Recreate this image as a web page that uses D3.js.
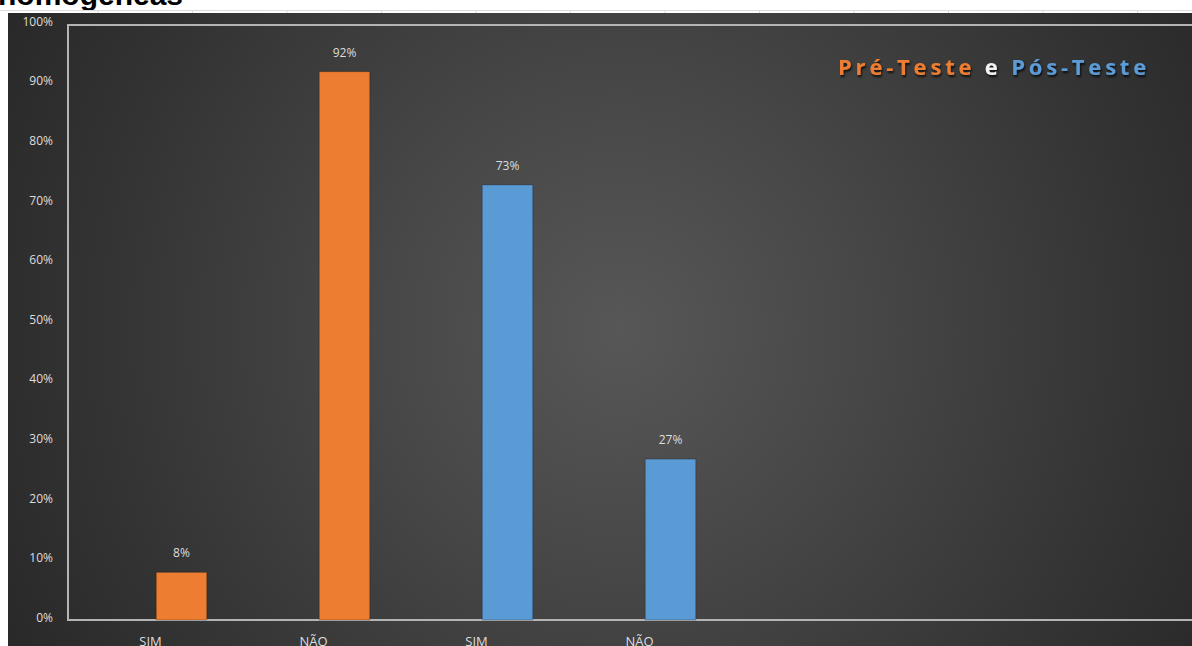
<!DOCTYPE html>
<html>
<head>
<meta charset="utf-8">
<script src="https://cdn.jsdelivr.net/npm/d3@7"></script>
<style>
  html, body { margin: 0; padding: 0; background: #fff; overflow: hidden; }
  svg { display: block; }
</style>
</head>
<body>
<div class="graph"></div>
<script>
(() => {
var categories = ['SIM', 'NÃO', 'SIM', 'NÃO'];
var groups = ['pre', 'pre', 'post', 'post'];
var values = [0.08, 0.92, 0.73, 0.27];
var yTicks = [0, 0.1, 0.2, 0.3, 0.4, 0.5, 0.6, 0.7, 0.8, 0.9, 1];
var legendParts = [['Pré-Teste', 'pre'], [' e ', 'and'], ['Pós-Teste', 'post']];

var width = 1192,
    height = 646,
    frame = {left: 8, top: 13},
    plot = {left: 68, top: 24, bottom: 620};

var colors = d3.scaleOrdinal()
    .domain(['pre', 'post', 'and'])
    .range(['#ed7d31', '#5b9bd5', '#f2f2f2']);

var svg = d3.select('div.graph')
    .append('svg')
        .attr('width', width)
        .attr('height', height);

var defs = svg.append('defs');
var grad = defs.append('radialGradient')
    .attr('id', 'bg')
    .attr('gradientUnits', 'userSpaceOnUse')
    .attr('cx', 620).attr('cy', 330).attr('r', 700);
grad.append('stop').attr('offset', 0).attr('stop-color', '#575757');
grad.append('stop').attr('offset', 0.35).attr('stop-color', '#474747');
grad.append('stop').attr('offset', 0.75).attr('stop-color', '#333333');
grad.append('stop').attr('offset', 1).attr('stop-color', '#282828');

var shadow = defs.append('filter').attr('id', 'shadow')
    .attr('x', '-10%').attr('y', '-30%').attr('width', '120%').attr('height', '160%');
shadow.append('feDropShadow')
    .attr('dx', 1).attr('dy', 2).attr('stdDeviation', 1.2)
    .attr('flood-color', '#000').attr('flood-opacity', 0.8);

// sheet behind the chart
svg.append('text')
    .attr('x', -2)
    .attr('y', 5)
    .text('homogêneas')
    .style('font-family', '"Liberation Sans", Arial, sans-serif')
    .style('font-weight', 'bold')
    .style('font-size', '30px')
    .style('fill', '#000');
svg.append('line')
    .attr('x1', 0).attr('x2', width)
    .attr('y1', 10.5).attr('y2', 10.5)
    .style('stroke', '#dcdcdc');
svg.selectAll('sheetLine')
    .data(d3.range(98, width, 94.5))
    .enter()
    .append('line')
        .attr('x1', d => d).attr('x2', d => d)
        .attr('y1', 10).attr('y2', frame.top)
        .style('stroke', '#dcdcdc');

// chart frame
svg.append('rect')
    .attr('x', frame.left)
    .attr('y', frame.top)
    .attr('width', width - frame.left)
    .attr('height', height - frame.top)
    .style('fill', 'url(#bg)');

var y = d3.scaleLinear()
    .domain([0, 1])
    .range([plot.bottom, plot.top]);

var x = d3.scaleBand()
    .domain(d3.range(categories.length))
    .range([100, 752])
    .paddingInner(0.69)
    .paddingOuter(0.345);

// plot area border
svg.append('path')
    .attr('d', 'M' + (width + 5) + ',' + (plot.top + 1) + 'H' + plot.left + 'V' + plot.bottom + 'H' + (width + 5))
    .style('fill', 'none')
    .style('stroke', '#b4b4b4')
    .style('stroke-width', 2);

var yAxis = svg.append('g')
    .attr('transform', 'translate(53,0)')
    .call(d3.axisLeft(y).tickValues(yTicks).tickFormat(d3.format('.0%')).tickSize(0).tickPadding(0));
yAxis.select('.domain').remove();
yAxis.selectAll('text')
    .attr('dy', '0.1em')
    .style('font-family', '"Open Sans", sans-serif')
    .style('font-size', '12px')
    .style('fill', '#dedede');

svg.append('g')
    .selectAll('rect')
    .data(values)
    .enter()
    .append('rect')
        .attr('x', (d, i) => x(i))
        .attr('y', d => y(d))
        .attr('width', x.bandwidth())
        .attr('height', d => y(0) - y(d))
        .style('fill', (d, i) => colors(groups[i]))
        .style('stroke', 'rgba(0,0,0,0.25)')
        .style('stroke-width', 1);

svg.append('g')
    .selectAll('text')
    .data(values)
    .enter()
    .append('text')
        .attr('x', (d, i) => x(i) + x.bandwidth() / 2)
        .attr('y', d => y(d) - 15)
        .attr('text-anchor', 'middle')
        .text(d => d3.format('.0%')(d))
        .style('font-family', '"Open Sans", sans-serif')
        .style('font-size', '12px')
        .style('fill', '#dedede');

var xAxis = svg.append('g')
    .attr('transform', 'translate(-31,' + plot.bottom + ')')
    .call(d3.axisBottom(x).tickFormat(i => categories[i]).tickSize(0).tickPadding(0));
xAxis.select('.domain').remove();
xAxis.selectAll('text')
    .attr('y', 26)
    .attr('dy', 0)
    .style('font-family', '"Open Sans", sans-serif')
    .style('font-size', '13px')
    .style('fill', '#dedede');

var legend = svg.append('text')
    .attr('x', 838)
    .attr('y', 75)
    .attr('filter', 'url(#shadow)')
    .style('font-family', '"Open Sans", sans-serif')
    .style('font-weight', 'bold')
    .style('font-size', '22px')
    .style('letter-spacing', '3.8px')
    .style('white-space', 'pre');
legend.selectAll('tspan')
    .data(legendParts)
    .enter()
    .append('tspan')
        .text(d => d[0])
        .style('fill', d => colors(d[1]));
})();
</script>
</body>
</html>
